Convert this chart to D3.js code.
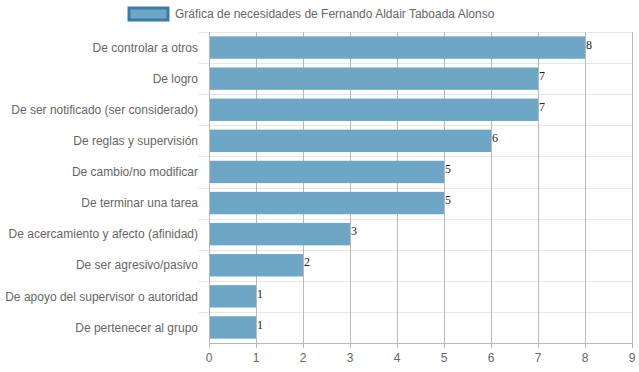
<!DOCTYPE html>
<html>
<head>
<meta charset="utf-8">
<script src="https://cdn.jsdelivr.net/npm/d3@7"></script>
<style>
  body { margin: 0; background: #fff; }
  svg { display: block; font-family: "Liberation Sans", Arial, sans-serif; }
</style>
</head>
<body>
<svg width="639" height="372"></svg>
<script>
// Datos de la gráfica
const categorias = [
  "De controlar a otros",
  "De logro",
  "De ser notificado (ser considerado)",
  "De reglas y supervisión",
  "De cambio/no modificar",
  "De terminar una tarea",
  "De acercamiento y afecto (afinidad)",
  "De ser agresivo/pasivo",
  "De apoyo del supervisor o autoridad",
  "De pertenecer al grupo"
];
const valores = [8, 7, 7, 6, 5, 5, 3, 2, 1, 1];
const ticksX = [0, 1, 2, 3, 4, 5, 6, 7, 8, 9];
const titulo = "Gráfica de necesidades de Fernando Aldair Taboada Alonso";

const colorBarra = "#6ea6c6";
const colorBorde = "#3a7ca6";

const margen = { top: 32, right: 7, bottom: 29, left: 209 };
const ancho = 639, alto = 372;

const svg = d3.select("svg");

const x = d3.scaleLinear()
  .domain([0, 9])
  .range([margen.left, ancho - margen.right]);

const y = d3.scaleBand()
  .domain(categorias)
  .range([margen.top, alto - margen.bottom])
  .paddingInner(0.28)
  .paddingOuter(0.14);

const paso = y.step();

// Líneas horizontales (entre categorías)
const lineasY = d3.range(categorias.length).map(i => margen.top + i * paso);
svg.append("g")
  .selectAll("line")
  .data(lineasY)
  .enter().append("line")
  .attr("x1", margen.left - 10)
  .attr("x2", ancho - margen.right)
  .attr("y1", d => Math.round(d) + 0.5)
  .attr("y2", d => Math.round(d) + 0.5)
  .attr("stroke", "#e6e6e6");

// Líneas verticales
svg.append("g")
  .selectAll("line")
  .data(ticksX)
  .enter().append("line")
  .attr("x1", d => Math.round(x(d)) + 0.5)
  .attr("x2", d => Math.round(x(d)) + 0.5)
  .attr("y1", margen.top)
  .attr("y2", alto - margen.bottom + 5)
  .attr("stroke", "#b8b8b8");

// Eje inferior
svg.append("line")
  .attr("x1", margen.left)
  .attr("x2", ancho - margen.right)
  .attr("y1", alto - margen.bottom + 0.5)
  .attr("y2", alto - margen.bottom + 0.5)
  .attr("stroke", "#b8b8b8");

// Barras
svg.append("g")
  .selectAll("rect")
  .data(valores)
  .enter().append("rect")
  .attr("x", x(0) + 1)
  .attr("y", (d, i) => y(categorias[i]))
  .attr("width", d => x(d) - x(0) - 1)
  .attr("height", y.bandwidth())
  .attr("fill", colorBarra);

// Valores al final de cada barra
svg.append("g")
  .selectAll("text")
  .data(valores)
  .enter().append("text")
  .attr("x", d => x(d) + 1)
  .attr("y", (d, i) => y(categorias[i]) + y.bandwidth() / 2 - 3)
  .attr("dy", "0.35em")
  .attr("font-family", "'Liberation Serif', 'Times New Roman', serif")
  .attr("font-size", 12)
  .attr("fill", "#222")
  .text(d => d);

// Etiquetas del eje Y
svg.append("g")
  .selectAll("text")
  .data(categorias)
  .enter().append("text")
  .attr("x", margen.left - 11)
  .attr("y", d => y(d) + y.bandwidth() / 2)
  .attr("dy", "0.35em")
  .attr("text-anchor", "end")
  .attr("font-size", 12)
  .attr("fill", "#666")
  .text(d => d);

// Etiquetas del eje X
svg.append("g")
  .selectAll("text")
  .data(ticksX)
  .enter().append("text")
  .attr("x", d => x(d))
  .attr("y", alto - margen.bottom + 19)
  .attr("text-anchor", "middle")
  .attr("font-size", 12)
  .attr("fill", "#666")
  .text(d => d);

// Leyenda
const leyenda = svg.append("g");
leyenda.append("rect")
  .attr("x", 129)
  .attr("y", 8)
  .attr("width", 39)
  .attr("height", 12)
  .attr("fill", colorBarra)
  .attr("stroke", colorBorde)
  .attr("stroke-width", 3);
leyenda.append("text")
  .attr("x", 175)
  .attr("y", 14)
  .attr("dy", "0.35em")
  .attr("font-size", 12)
  .attr("fill", "#666")
  .text(titulo);
</script>
</body>
</html>
